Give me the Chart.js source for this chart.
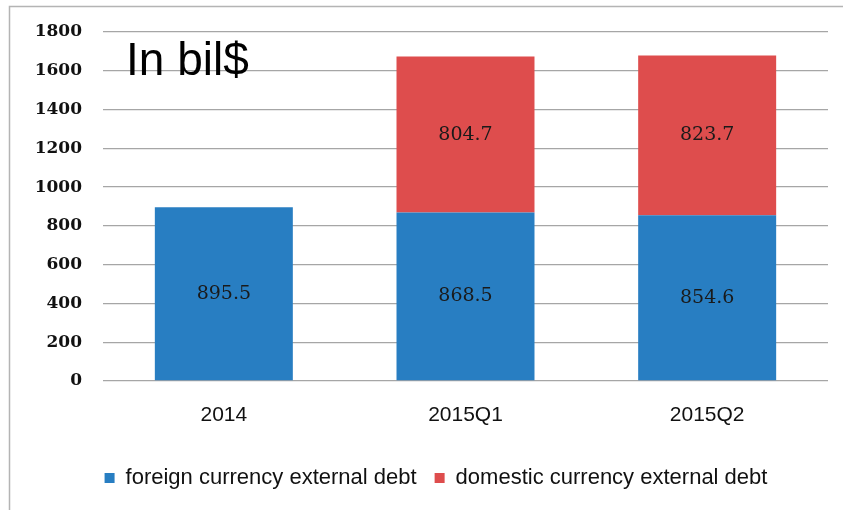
<!DOCTYPE html>
<html>
<head>
<meta charset="utf-8">
<script src="https://cdn.jsdelivr.net/npm/chart.js@4"></script>
<style>
  html, body { margin: 0; padding: 0; background: #fff; }
  #wrap { width: 843px; height: 510px; position: relative; }
</style>
</head>
<body>
<div id="wrap"><canvas id="grafica"></canvas></div>
<script>
var categorias = ['2014', '2015Q1', '2015Q2'];
var deuda_extranjera = [895.5, 868.5, 854.6];
var deuda_domestica = [null, 804.7, 823.7];
var nombres = ['foreign currency external debt', 'domestic currency external debt'];
var ticks_y = [0, 200, 400, 600, 800, 1000, 1200, 1400, 1600, 1800];

var fuente = '"Liberation Sans", Arial, sans-serif';

// marco, etiquetas de valor y el texto "In bil$"
var extras = {
	id: 'extras',
	afterLayout: function(chart) {
		// la leyenda va un poco a la derecha, como en el original
		chart.legend.left += 22;
		chart.legend.right += 22;
	},
	beforeDraw: function(chart) {
		var c = chart.ctx;
		c.save();
		c.fillStyle = '#fff';
		c.fillRect(0, 0, chart.width, chart.height);
		c.strokeStyle = '#b4b4b4';
		c.lineWidth = 1.5;
		c.beginPath();
		c.moveTo(9.5, chart.height);
		c.lineTo(9.5, 6.5);
		c.lineTo(chart.width, 6.5);
		c.stroke();
		c.restore();
	},
	afterDatasetsDraw: function(chart) {
		var c = chart.ctx;
		c.save();
		c.font = '19px "DejaVu Serif", serif';
		c.fillStyle = '#1a1a1a';
		c.textAlign = 'center';
		c.textBaseline = 'middle';
		chart.data.datasets.forEach(function(ds, i) {
			chart.getDatasetMeta(i).data.forEach(function(bar, j) {
				if (ds.data[j] == null) return;
				var mid = (bar.y + bar.base) / 2;
				c.fillText(ds.data[j].toFixed(1), bar.x, mid);
			});
		});
		c.font = '46px "Liberation Sans", Arial, sans-serif';
		c.fillStyle = '#000';
		c.textAlign = 'left';
		c.textBaseline = 'alphabetic';
		c.fillText('In bil$', 126, 75);
		c.restore();
	}
};

var ctx = document.getElementById('grafica').getContext('2d');
var chart = new Chart(ctx, {
	type: 'bar',
	data: {
		labels: categorias,
		datasets: [{
			label: nombres[0],
			data: deuda_extranjera,
			backgroundColor: 'rgb(40, 126, 194)',
			barPercentage: 0.571,
			categoryPercentage: 1
		}, {
			label: nombres[1],
			data: deuda_domestica,
			backgroundColor: 'rgb(222, 77, 77)',
			barPercentage: 0.571,
			categoryPercentage: 1
		}]
	},
	options: {
		responsive: true,
		maintainAspectRatio: false,
		animation: false,
		layout: { padding: { top: 32, right: 15, left: 0, bottom: 11 } },
		scales: {
			x: {
				stacked: true,
				grid: { display: false, drawTicks: false },
				border: { display: false },
				ticks: { color: '#111', font: { family: fuente, size: 21 }, padding: 22 },
				afterFit: function(s) { s.height = 68; }
			},
			y: {
				stacked: true,
				min: 0,
				max: 1800,
				afterBuildTicks: function(s) { s.ticks = ticks_y.map(function(v) { return { value: v }; }); },
				grid: { color: '#a6a6a6', lineWidth: 1.3, drawTicks: false },
				border: { display: false },
				ticks: {
					color: '#111',
					font: { family: '"DejaVu Serif", serif', size: 17, weight: 'bold' },
					padding: 21,
					callback: function(v) { return String(v); }
				},
				afterFit: function(s) { s.width = 103; }
			}
		},
		plugins: {
			legend: {
				position: 'bottom',
				labels: {
					boxWidth: 10,
					boxHeight: 10,
					color: '#111',
					font: { family: fuente, size: 22 },
					padding: 18
				}
			},
			tooltip: { enabled: false }
		}
	},
	plugins: [extras]
});
</script>
</body>
</html>
